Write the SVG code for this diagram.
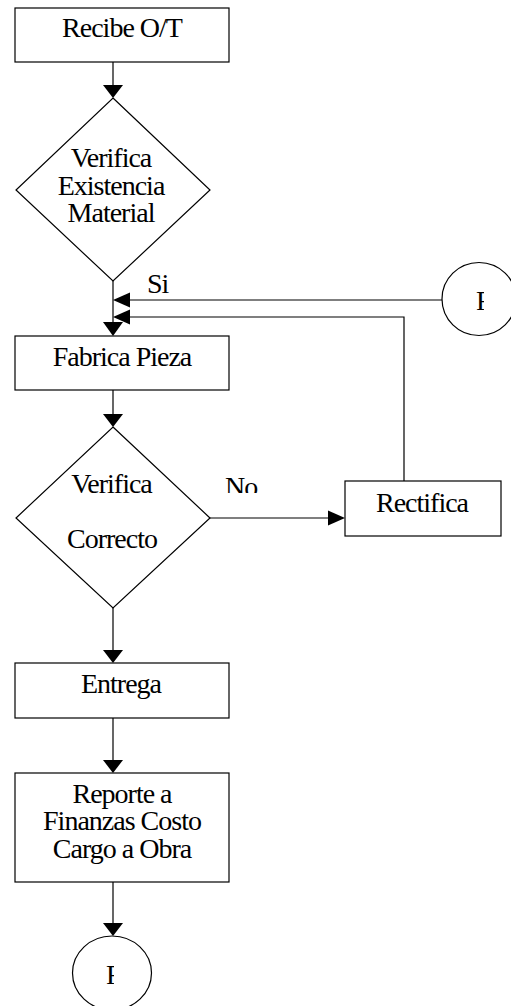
<svg xmlns="http://www.w3.org/2000/svg" width="511" height="1006" viewBox="0 0 511 1006">
  <style>
    .shape { fill: #ffffff; stroke: #000000; stroke-width: 1.2; }
    .line { fill: none; stroke: #000000; stroke-width: 1.2; }
    .head { fill: #000000; stroke: none; }
    text { font-family: "Liberation Serif", "Times New Roman", serif; font-size: 28px; letter-spacing: -1px; fill: #000000; }
    .c { text-anchor: middle; }
  </style>
  <defs>
    <clipPath id="clipF1"><rect x="460" y="280" width="24" height="40"/></clipPath>
    <clipPath id="clipF2"><rect x="90" y="955" width="24" height="40"/></clipPath>
    <clipPath id="clipNo"><rect x="215" y="465" width="60" height="28"/></clipPath>
  </defs>

  <rect width="511" height="1006" fill="#ffffff"/>

  <!-- connectors -->
  <g id="connectors">
    <line class="line" x1="113" y1="62" x2="113" y2="86"/>
    <polygon class="head" points="103,85 123,85 113,98"/>

    <line class="line" x1="113" y1="281" x2="113" y2="323"/>
    <polygon class="head" points="103,322 123,322 113,336"/>

    <line class="line" x1="442" y1="300" x2="128" y2="300"/>
    <polygon class="head" points="130,292.5 130,307.5 113,300"/>

    <polyline class="line" points="404,481 404,317 128,317"/>
    <polygon class="head" points="130,309.5 130,324.5 113,317"/>

    <line class="line" x1="113" y1="390" x2="113" y2="415"/>
    <polygon class="head" points="103,414 123,414 113,427"/>

    <line class="line" x1="210" y1="518" x2="330" y2="518"/>
    <polygon class="head" points="328,510.5 328,525.5 345,518"/>

    <line class="line" x1="113" y1="608" x2="113" y2="651"/>
    <polygon class="head" points="103,650 123,650 113,663"/>

    <line class="line" x1="113" y1="718" x2="113" y2="761"/>
    <polygon class="head" points="103,760 123,760 113,773"/>

    <line class="line" x1="113" y1="882" x2="113" y2="924"/>
    <polygon class="head" points="103,923 123,923 113,936"/>

    <text x="147" y="293">Si</text>
    <text x="225" y="496" clip-path="url(#clipNo)">No</text>
  </g>

  <g id="recibe">
    <rect class="shape" x="15" y="8" width="214" height="54"/>
    <text class="c" x="122" y="37">Recibe O/T</text>
  </g>

  <g id="verifica-existencia">
    <polygon class="shape" points="113,98 210,190 113,281 16,190"/>
    <text class="c" x="111" y="167">Verifica</text>
    <text class="c" x="111" y="194.5">Existencia</text>
    <text class="c" x="111" y="222">Material</text>
  </g>

  <g id="conector-derecho">
    <ellipse class="shape" cx="479" cy="299" rx="37" ry="36.5"/>
    <text x="476" y="310" clip-path="url(#clipF1)">F</text>
  </g>

  <g id="fabrica">
    <rect class="shape" x="15" y="336" width="214" height="54"/>
    <text class="c" x="122" y="366">Fabrica Pieza</text>
  </g>

  <g id="verifica-correcto">
    <polygon class="shape" points="113,427 210,518 113,608 16,518"/>
    <text class="c" x="111.5" y="493">Verifica</text>
    <text class="c" x="112" y="548">Correcto</text>
  </g>

  <g id="rectifica">
    <rect class="shape" x="345" y="481" width="156" height="55"/>
    <text class="c" x="422" y="512">Rectifica</text>
  </g>

  <g id="entrega">
    <rect class="shape" x="15" y="663" width="214" height="55"/>
    <text class="c" x="121" y="693">Entrega</text>
  </g>

  <g id="reporte">
    <rect class="shape" x="15" y="773" width="214" height="109"/>
    <text class="c" x="122" y="803">Reporte a</text>
    <text class="c" x="122" y="830">Finanzas Costo</text>
    <text class="c" x="122" y="858">Cargo a Obra</text>
  </g>

  <g id="conector-final">
    <ellipse class="shape" cx="112" cy="973" rx="39.5" ry="37"/>
    <text x="106" y="984" clip-path="url(#clipF2)">F</text>
  </g>
</svg>
